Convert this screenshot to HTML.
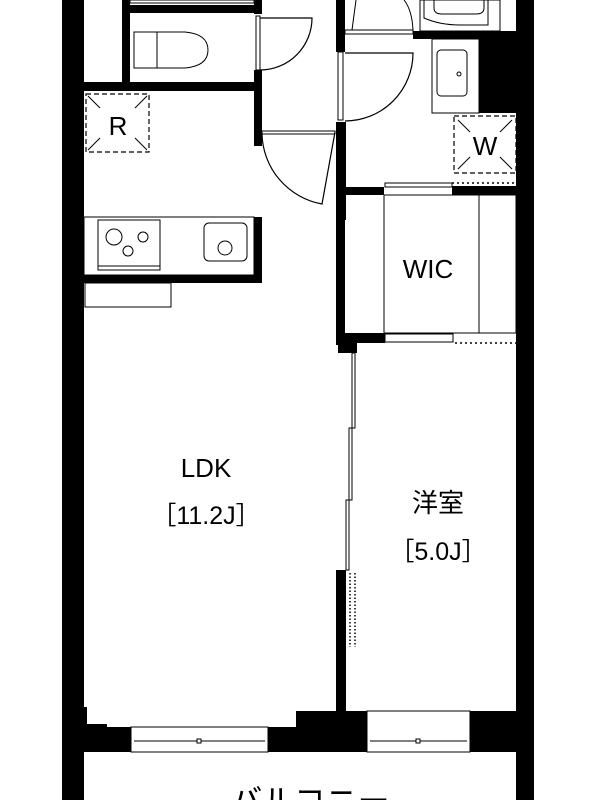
<!DOCTYPE html>
<html><head><meta charset="utf-8"><style>
html,body{margin:0;padding:0;background:#fff;width:600px;height:800px;overflow:hidden}
svg{display:block}
text{font-family:"Liberation Sans","Noto Sans CJK JP",sans-serif;fill:#000}
</style></head><body>
<svg width="600" height="800" viewBox="0 0 600 800" xmlns="http://www.w3.org/2000/svg">
<rect width="600" height="800" fill="#fff"/>
<!-- outer walls -->
<rect x="62" y="0" width="22" height="800" fill="#000"/>
<rect x="516" y="0" width="18" height="800" fill="#000"/>
<!-- toilet room -->
<rect x="122" y="0" width="8" height="90" fill="#000"/>
<rect x="84" y="82" width="178" height="9" fill="#000"/>
<rect x="130" y="0" width="124" height="3" fill="none" stroke="#000" stroke-width="1"/>
<rect x="130" y="5" width="124" height="8" fill="#000"/>
<rect x="254" y="0" width="8" height="14" fill="#000"/>
<rect x="254" y="70" width="8" height="76" fill="#000"/>
<rect x="256" y="16" width="4" height="54" fill="none" stroke="#000" stroke-width="1"/>
<path d="M260 18 L312 18 A52 52 0 0 1 260 70" fill="none" stroke="#000" stroke-width="1.2"/>
<!-- toilet -->
<rect x="134" y="32" width="23" height="36" fill="none" stroke="#000" stroke-width="1"/>
<path d="M157 32 L185 32 Q208 34 208 50 Q208 66 185 68 L157 68" fill="none" stroke="#000" stroke-width="1"/>
<!-- center wall -->
<rect x="336" y="0" width="9" height="52" fill="#000"/>
<rect x="338" y="52" width="5" height="68" fill="none" stroke="#000" stroke-width="1"/>
<rect x="336" y="122" width="10" height="98" fill="#000"/>
<rect x="336" y="187" width="48" height="8" fill="#000"/>
<rect x="336" y="195" width="9" height="150" fill="#000"/>
<rect x="338" y="340" width="19" height="13" fill="#000"/>
<!-- hall to washroom door -->
<path d="M345 53 L413 53 A68 68 0 0 1 345 121" fill="none" stroke="#000" stroke-width="1.2"/>
<!-- bath door -->
<rect x="345" y="30" width="68" height="4" fill="none" stroke="#000" stroke-width="1"/>
<path d="M352 30 L356 0 M413 30 Q412 10 404 0" fill="none" stroke="#000" stroke-width="1"/>
<rect x="413" y="31" width="103" height="8" fill="#000"/>
<!-- bath -->
<rect x="420" y="0" width="80" height="31" fill="none" stroke="#000" stroke-width="1"/>
<path d="M434 0 L434 8 Q434 14 442 14 L476 14 Q484 14 484 8 L484 0" fill="none" stroke="#000" stroke-width="1"/>
<path d="M424 0 L424 18 Q440 25 460 25 L488 25 L488 0" fill="none" stroke="#000" stroke-width="1"/>
<!-- basin -->
<rect x="479" y="39" width="37" height="74" fill="#000"/>
<rect x="432" y="39" width="47" height="74" fill="none" stroke="#000" stroke-width="1"/>
<rect x="437" y="50" width="30" height="46" rx="4" fill="none" stroke="#000" stroke-width="1"/>
<circle cx="459" cy="74" r="2" fill="none" stroke="#000" stroke-width="1"/>
<!-- W box -->
<rect x="454" y="116" width="62" height="57" fill="none" stroke="#000" stroke-width="1.2" stroke-dasharray="5,3"/>
<path d="M458 120 L470 132 M512 120 L500 132 M458 169 L470 157 M512 169 L500 157" stroke="#000" stroke-width="1"/>
<text x="485" y="155" font-size="26" text-anchor="middle">W</text>
<line x1="452" y1="183" x2="516" y2="183" stroke="#000" stroke-width="1.5" stroke-dasharray="2,3"/>
<rect x="452" y="186" width="64" height="9" fill="#000"/>
<!-- entrance door -->
<rect x="262" y="131" width="73" height="3" fill="none" stroke="#000" stroke-width="1"/>
<path d="M262 134 A73 73 0 0 0 322 204 L335 132" fill="none" stroke="#000" stroke-width="1.2"/>
<!-- R box -->
<rect x="86" y="94" width="63" height="58" fill="none" stroke="#000" stroke-width="1.2" stroke-dasharray="5,3"/>
<path d="M88 96 L100 108 M147 96 L135 108 M88 150 L100 138 M147 150 L135 138" stroke="#000" stroke-width="1"/>
<text x="118" y="135" font-size="26" text-anchor="middle">R</text>
<!-- kitchen -->
<rect x="84" y="217" width="170" height="58" fill="none" stroke="#000" stroke-width="1"/>
<rect x="254" y="217" width="8" height="66" fill="#000"/>
<rect x="84" y="275" width="178" height="8" fill="#000"/>
<rect x="85" y="283" width="86" height="24" fill="none" stroke="#000" stroke-width="1"/>
<rect x="98" y="220" width="62" height="50" fill="none" stroke="#000" stroke-width="1"/>
<rect x="98" y="266" width="62" height="4" fill="none" stroke="#000" stroke-width="1"/>
<circle cx="114" cy="237" r="8" fill="none" stroke="#000" stroke-width="1"/>
<circle cx="143" cy="237" r="5" fill="none" stroke="#000" stroke-width="1"/>
<circle cx="128" cy="251" r="5" fill="none" stroke="#000" stroke-width="1"/>
<rect x="204" y="223" width="43" height="38" rx="5" fill="none" stroke="#000" stroke-width="1"/>
<circle cx="225" cy="248" r="7" fill="none" stroke="#000" stroke-width="1"/>
<!-- WIC -->
<rect x="385" y="183" width="67" height="4" fill="none" stroke="#000" stroke-width="1"/>
<rect x="384" y="195" width="132" height="138" fill="none" stroke="#000" stroke-width="1"/>
<line x1="479" y1="195" x2="479" y2="333" stroke="#000" stroke-width="1"/>
<rect x="345" y="333" width="40" height="10" fill="#000"/>
<rect x="385" y="334" width="68" height="8" fill="none" stroke="#000" stroke-width="1"/>
<line x1="455" y1="343" x2="516" y2="343" stroke="#000" stroke-width="1.5" stroke-dasharray="2,3"/>
<text x="428" y="278" font-size="26" text-anchor="middle">WIC</text>
<!-- sliding doors -->
<path d="M352 353 L355 353 L355 428 L352 428 Z M349 428 L352 428 L352 500 L349 500 Z M346 500 L349 500 L349 570 L346 570 Z" fill="none" stroke="#000" stroke-width="1"/>
<rect x="336" y="570" width="10" height="142" fill="#000"/>
<line x1="350" y1="573" x2="350" y2="647" stroke="#000" stroke-width="1.5" stroke-dasharray="1.5,2"/>
<line x1="355" y1="573" x2="355" y2="647" stroke="#000" stroke-width="1.5" stroke-dasharray="1.5,2"/>
<!-- bottom band -->
<rect x="84" y="727" width="432" height="25" fill="#000"/>
<path d="M84 707 L87 707 L87 724 L107 724 L107 727 L84 727 Z" fill="#000"/>
<rect x="296" y="711" width="71" height="41" fill="#000"/>
<rect x="470" y="711" width="46" height="41" fill="#000"/>
<rect x="131" y="727" width="137" height="25" fill="#fff" stroke="#000" stroke-width="1"/>
<rect x="367" y="711" width="103" height="41" fill="#fff" stroke="#000" stroke-width="1"/>
<line x1="134" y1="741" x2="265" y2="741" stroke="#000" stroke-width="1"/>
<line x1="370" y1="741" x2="467" y2="741" stroke="#000" stroke-width="1"/>
<rect x="197" y="739" width="4" height="4" fill="#fff" stroke="#000"/>
<rect x="416" y="739" width="4" height="4" fill="#fff" stroke="#000"/>
<!-- labels -->
<text x="206" y="477" font-size="26" text-anchor="middle">LDK</text>
<text x="206" y="524" font-size="25" text-anchor="middle">［11.2J］</text>
<text x="438" y="512" font-size="26" text-anchor="middle">洋室</text>
<text x="438" y="560" font-size="25" text-anchor="middle">［5.0J］</text>
<text x="310" y="812" font-size="32" text-anchor="middle">バルコニー</text>
</svg>
</body></html>
